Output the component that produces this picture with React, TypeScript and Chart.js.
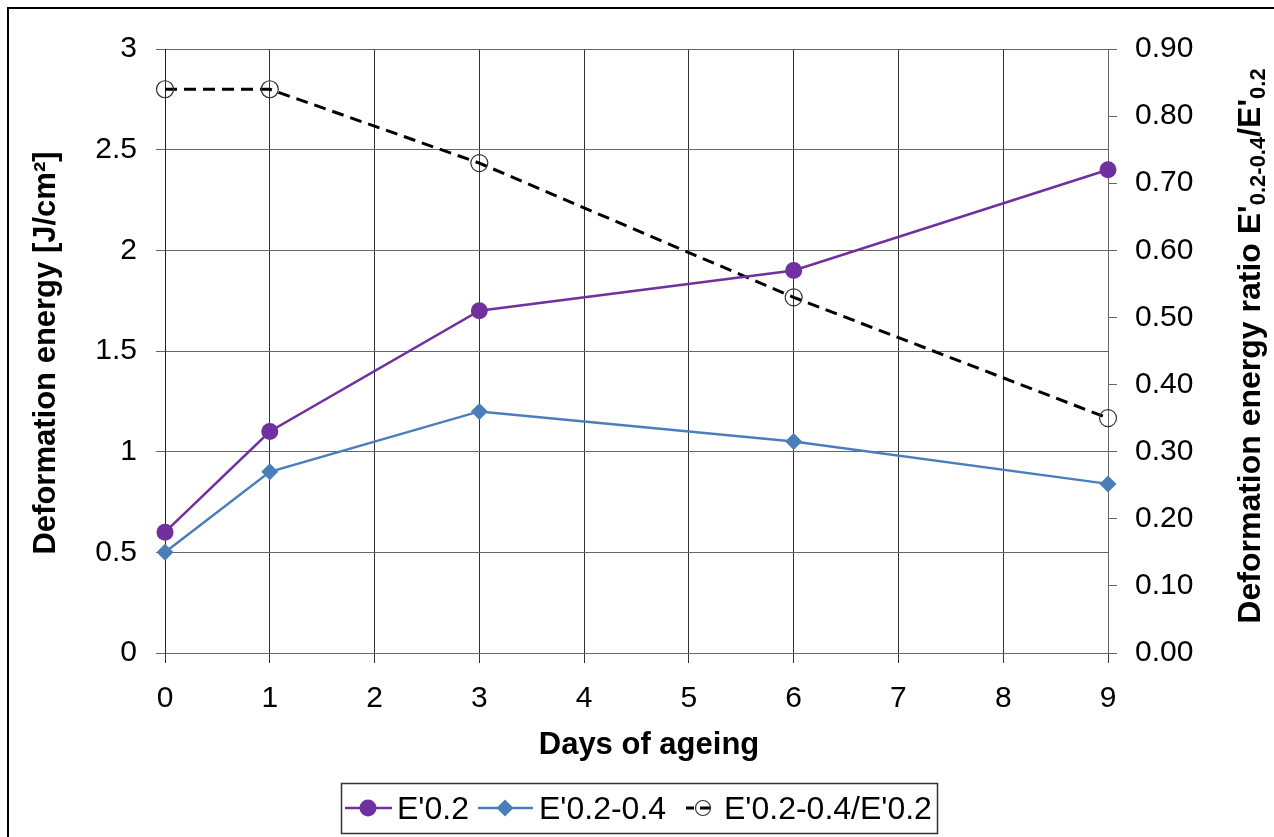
import React, { useEffect, useRef } from 'react';
import { Chart, registerables } from 'chart.js';

Chart.register(...registerables);

const days = [0, 1, 3, 6, 9];
const e02 = [0.6, 1.1, 1.7, 1.9, 2.4];
const e0204 = [0.5, 0.9, 1.2, 1.05, 0.84];
const ratio = [0.84, 0.84, 0.73, 0.53, 0.35];
const seriesLabels = ["E'0.2", "E'0.2-0.4", "E'0.2-0.4/E'0.2"];
const leftTitle = 'Deformation energy [J/cm²]';
const xTitle = 'Days of ageing';
const rightTitleParts = [
  { t: "Deformation energy ratio E'", sub: false },
  { t: '0.2-0.4', sub: true },
  { t: "/E'", sub: false },
  { t: '0.2', sub: true },
];

const FONT = '"Liberation Sans", Arial, Helvetica, sans-serif';
const PURPLE = '#7030A0';
const BLUE = '#4A7EBB';

export default function App() {
  const ref = useRef<HTMLCanvasElement>(null);

  useEffect(() => {
    document.body.style.margin = '0';
    const canvas = ref.current!;
    Chart.defaults.font.family = FONT;

    const overlay = {
      id: 'overlay',
      afterDraw(chart: any) {
        const c: CanvasRenderingContext2D = chart.ctx;
        c.save();
        // outer frame
        c.strokeStyle = '#000';
        c.lineWidth = 2;
        c.strokeRect(8, 8, 1280, 850);

        c.fillStyle = '#000';
        c.font = `bold 31px ${FONT}`;
        c.textAlign = 'center';
        c.textBaseline = 'alphabetic';
        // left title
        c.save();
        c.translate(55, 353);
        c.rotate(-Math.PI / 2);
        c.fillText(leftTitle, 0, 0);
        c.restore();
        // x title
        c.fillText(xTitle, 649, 754);

        // right title with subscripts
        const big = `bold 32px ${FONT}`;
        const small = `bold 22px ${FONT}`;
        const widths = rightTitleParts.map((p) => {
          c.font = p.sub ? small : big;
          return c.measureText(p.t).width;
        });
        const total = widths.reduce((a, b) => a + b, 0);
        c.save();
        c.translate(1260, 346);
        c.rotate(-Math.PI / 2);
        c.textAlign = 'left';
        let x = -total / 2;
        rightTitleParts.forEach((p, i) => {
          c.font = p.sub ? small : big;
          c.fillText(p.t, x, p.sub ? 5 : 0);
          x += widths[i];
        });
        c.restore();

        // legend
        c.lineWidth = 1.5;
        c.strokeStyle = '#333';
        c.strokeRect(341.5, 783.5, 596, 50);
        const ly = 808;
        c.font = `32px ${FONT}`;
        c.textAlign = 'left';
        c.fillStyle = '#000';
        // item 1
        c.strokeStyle = PURPLE;
        c.lineWidth = 2.5;
        c.beginPath();
        c.moveTo(345, ly);
        c.lineTo(392, ly);
        c.stroke();
        c.fillStyle = PURPLE;
        c.beginPath();
        c.arc(368, ly, 8.5, 0, Math.PI * 2);
        c.fill();
        c.fillStyle = '#000';
        c.fillText(seriesLabels[0], 397, 819);
        // item 2
        c.strokeStyle = BLUE;
        c.beginPath();
        c.moveTo(478, ly);
        c.lineTo(533, ly);
        c.stroke();
        c.fillStyle = BLUE;
        c.beginPath();
        c.moveTo(505 - 8.5, ly);
        c.lineTo(505, ly - 8.5);
        c.lineTo(505 + 8.5, ly);
        c.lineTo(505, ly + 8.5);
        c.closePath();
        c.fill();
        c.fillStyle = '#000';
        c.fillText(seriesLabels[1], 539, 819);
        // item 3
        c.strokeStyle = '#000';
        c.lineWidth = 3;
        c.beginPath();
        c.moveTo(686, ly);
        c.lineTo(694, ly);
        c.moveTo(700, ly);
        c.lineTo(710, ly);
        c.stroke();
        c.strokeStyle = '#333';
        c.lineWidth = 1.2;
        c.beginPath();
        c.arc(703, ly, 7.5, 0, Math.PI * 2);
        c.stroke();
        c.fillText(seriesLabels[2], 724, 819);
        c.restore();
      },
    };

    const chart = new Chart(canvas, {
      type: 'line',
      data: {
        datasets: [
          {
            label: seriesLabels[0],
            data: days.map((d, i) => ({ x: d, y: e02[i] })),
            borderColor: PURPLE,
            backgroundColor: PURPLE,
            borderWidth: 2.5,
            pointStyle: 'circle',
            pointRadius: 8.5,
            pointBorderWidth: 0,
            pointBackgroundColor: PURPLE,
            yAxisID: 'y',
            clip: false,
          },
          {
            label: seriesLabels[1],
            data: days.map((d, i) => ({ x: d, y: e0204[i] })),
            borderColor: BLUE,
            backgroundColor: BLUE,
            borderWidth: 2.5,
            pointStyle: 'rectRot',
            pointRadius: 8.5,
            pointBorderWidth: 0,
            pointBackgroundColor: BLUE,
            yAxisID: 'y',
            clip: false,
          },
          {
            label: seriesLabels[2],
            data: days.map((d, i) => ({ x: d, y: ratio[i] })),
            borderColor: '#000',
            borderWidth: 3,
            borderDash: [12, 7],
            pointStyle: 'circle',
            pointRadius: 8.5,
            pointBorderWidth: 1.2,
            pointBorderColor: '#333',
            pointBackgroundColor: 'rgba(0,0,0,0)',
            yAxisID: 'y1',
            clip: false,
          },
        ] as any,
      },
      options: {
        responsive: false,
        devicePixelRatio: 1,
        animation: false,
        layout: { padding: { top: 49, left: 0, right: 0, bottom: 0 } },
        plugins: {
          legend: { display: false },
          tooltip: { enabled: false },
          title: { display: false },
        },
        scales: {
          x: {
            type: 'linear',
            min: 0,
            max: 9,
            ticks: {
              stepSize: 1,
              font: { size: 30 },
              color: '#000',
              padding: 18,
              maxRotation: 0,
            },
            grid: { color: '#333', lineWidth: 1, tickLength: 10, tickColor: '#333' },
            border: { color: '#666', width: 1 },
            afterFit: (s: any) => {
              s.height = 184;
            },
          },
          y: {
            position: 'left',
            min: 0,
            max: 3,
            ticks: {
              stepSize: 0.5,
              callback: (v: any) => String(v),
              font: { size: 30 },
              color: '#000',
              padding: 19,
            },
            grid: { color: '#666', lineWidth: 1, tickLength: 9, tickColor: '#666' },
            border: { color: '#222', width: 1 },
            afterFit: (s: any) => {
              s.width = 165;
            },
          },
          y1: {
            position: 'right',
            min: 0,
            max: 0.9,
            ticks: {
              stepSize: 0.1,
              callback: (v: any) => Number(v).toFixed(2),
              font: { size: 30 },
              color: '#000',
              padding: 18,
            },
            grid: { drawOnChartArea: false, tickLength: 9, tickColor: '#666' },
            border: { color: '#666', width: 1 },
            afterFit: (s: any) => {
              s.width = 166;
            },
          },
        } as any,
      },
      plugins: [overlay],
    });
    return () => chart.destroy();
  }, []);

  return (
    <div style={{ width: 1274, height: 837, position: 'relative', overflow: 'hidden', background: '#fff' }}>
      <canvas ref={ref} width={1274} height={837} style={{ display: 'block' }} />
    </div>
  );
}
